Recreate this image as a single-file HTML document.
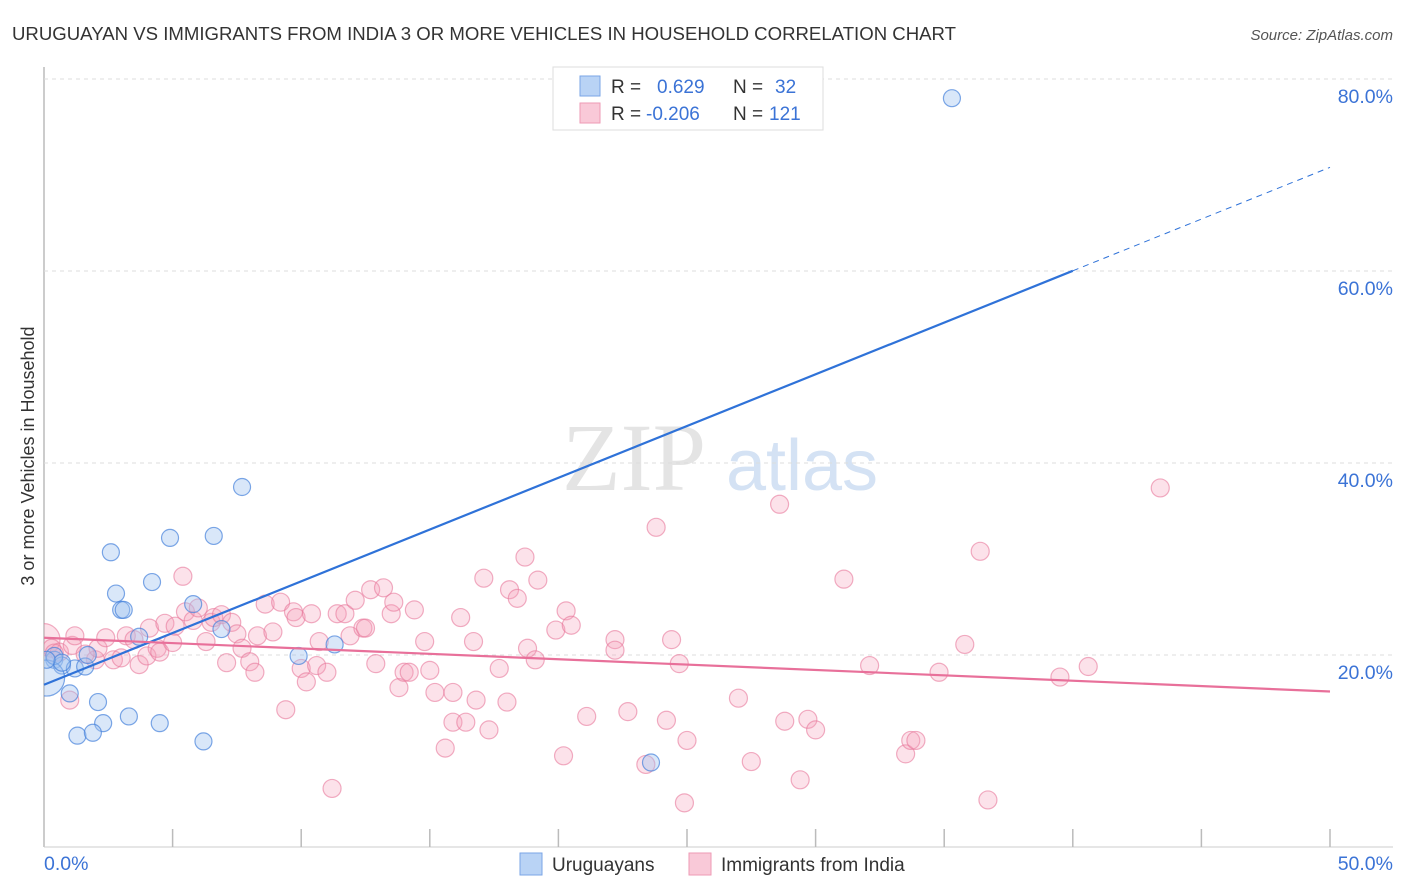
<!DOCTYPE html>
<html><head><meta charset="utf-8">
<style>
body{margin:0;background:#fff;width:1406px;height:892px;overflow:hidden;font-family:"Liberation Sans",sans-serif;}
svg{position:absolute;left:0;top:0}
</style></head>
<body>
<svg id="chart" width="1406" height="892">
<defs><clipPath id="plotclip"><rect x="44" y="60" width="1360" height="787"/></clipPath></defs>
<text x="12" y="40" font-size="18" fill="#333" textLength="944" lengthAdjust="spacingAndGlyphs">URUGUAYAN VS IMMIGRANTS FROM INDIA 3 OR MORE VEHICLES IN HOUSEHOLD CORRELATION CHART</text>
<text x="1393" y="40" font-size="15" fill="#555" font-style="italic" text-anchor="end">Source: ZipAtlas.com</text>
<text x="634" y="490" font-size="96" fill="#e4e4e4" font-family="Liberation Serif,serif" text-anchor="middle">ZIP</text>
<text x="802" y="490" font-size="72" fill="#d4e2f4" text-anchor="middle">atlas</text>
<text transform="translate(34,456) rotate(-90)" font-size="18" fill="#333" text-anchor="middle">3 or more Vehicles in Household</text>
<g id="grid"></g>
<g id="pts" clip-path="url(#plotclip)"></g>
<g id="lines"></g>
<g>
<rect x="553" y="67" width="270" height="63" fill="#fff" stroke="#ddd"/>
<rect x="580" y="76" width="20" height="20" fill="#b9d3f5" stroke="#7aa5e6"/>
<text x="611" y="93" font-size="19" fill="#333">R =</text>
<text x="657" y="93" font-size="19" fill="#3b73d6">0.629</text>
<text x="733" y="93" font-size="19" fill="#333">N =</text>
<text x="775" y="93" font-size="19" fill="#3b73d6">32</text>
<rect x="580" y="103" width="20" height="20" fill="#f9c9d8" stroke="#ee9ab5"/>
<text x="611" y="120" font-size="19" fill="#333">R =</text>
<text x="646" y="120" font-size="19" fill="#3b73d6">-0.206</text>
<text x="733" y="120" font-size="19" fill="#333">N =</text>
<text x="769" y="120" font-size="19" fill="#3b73d6">121</text>
</g>
<g>
<rect x="520" y="853" width="22" height="22" fill="#b9d3f5" stroke="#7aa5e6"/>
<text x="552" y="871" font-size="19" fill="#333">Uruguayans</text>
<rect x="689" y="853" width="22" height="22" fill="#f9c9d8" stroke="#ee9ab5"/>
<text x="721" y="871" font-size="19" fill="#333">Immigrants from India</text>
</g>
</svg>
<script>
const yTicks=[20,40,60,80];
const xTickLabels=["0.0%","50.0%"];
const blueX=[35.3,7.7,2.6,4.9,6.6,4.2,2.8,3.0,3.1,5.8,3.7,6.9,9.9,11.3,0.4,0.7,1.2,1.6,1.7,1.0,2.1,2.3,3.3,4.5,1.3,1.9,6.2,23.6,0.1,0.4,0.7,0.1];
const blueY=[78.0,37.5,30.7,32.2,32.4,27.6,26.4,24.7,24.7,25.3,21.9,22.7,19.9,21.1,19.5,18.9,18.6,18.8,20.0,16.0,15.1,12.9,13.6,12.9,11.6,11.9,11.0,8.8,17.6,19.9,19.2,19.5];
const pinkX=[0.0,0.3,0.6,1.1,1.2,1.0,2.0,2.1,2.4,2.7,3.0,3.2,3.5,3.7,4.0,4.1,4.4,4.5,4.7,5.0,5.1,5.4,5.5,5.8,6.0,6.3,6.5,6.6,6.9,7.1,7.3,7.5,7.7,8.0,8.2,8.3,8.6,8.9,9.2,9.4,9.7,9.8,10.0,10.2,10.4,10.6,10.7,11.0,11.2,11.4,11.7,11.9,12.1,12.4,12.5,12.7,12.9,13.2,13.5,13.6,13.8,14.0,14.2,14.4,14.8,15.0,15.2,15.6,15.9,15.9,16.2,16.4,16.7,16.8,17.1,17.3,17.7,18.0,18.1,18.4,18.7,18.8,19.1,19.2,19.9,20.2,20.3,20.5,21.1,22.2,22.2,22.7,23.4,23.8,24.2,24.4,24.7,24.9,25.0,27.0,27.5,28.6,28.8,29.4,29.7,30.0,31.1,32.1,33.5,33.7,33.9,34.8,35.8,36.4,36.7,39.5,40.6,43.4,0.4,1.6];
const pinkY=[21.6,20.7,20.3,21.0,22.0,15.3,19.5,20.7,21.8,19.5,19.7,22.0,21.6,19.0,19.9,22.8,20.7,20.3,23.3,21.3,23.0,28.2,24.5,23.6,24.9,21.4,23.4,23.9,24.2,19.2,23.4,22.2,20.7,19.3,18.2,22.0,25.3,22.4,25.5,14.3,24.5,23.9,18.6,17.2,24.3,18.9,21.4,18.2,6.1,24.3,24.3,22.0,25.7,22.8,22.8,26.8,19.1,27.0,24.3,25.5,16.6,18.2,18.2,24.7,21.4,18.4,16.1,10.3,13.0,16.1,23.9,13.0,21.4,15.3,28.0,12.2,18.6,15.1,26.8,25.9,30.2,20.7,19.5,27.8,22.6,9.5,24.6,23.1,13.6,21.6,20.5,14.1,8.6,33.3,13.2,21.6,19.1,4.6,11.1,15.5,8.9,35.7,13.1,7.0,13.3,12.2,27.9,18.9,9.7,11.1,11.1,18.2,21.1,30.8,4.9,17.7,18.8,37.4,20.2,20.1];
const blueTrend=[16.9,1.078]; // intercept, slope
const pinkTrend=[21.8,-0.112];
const X0=44,X1=1330,Y0=847,PXY=9.6;
const sx=v=>X0+(X1-X0)*v/50, sy=v=>Y0-v*PXY;
const NS="http://www.w3.org/2000/svg";
function mk(tag,attrs,parent){const e=document.createElementNS(NS,tag);for(const k in attrs)e.setAttribute(k,attrs[k]);parent.appendChild(e);return e;}
const grid=document.getElementById('grid');
let ax=mk('line',{x1:44,y1:67,x2:44,y2:847,stroke:'#bbb','stroke-width':1.5},grid);


let bx=mk('line',{x1:44,y1:847,x2:1393,y2:847,stroke:'#ccc','stroke-width':1},grid);


yTicks.forEach(t=>{
 const g=mk('line',{x1:44,y1:sy(t),x2:1393,y2:sy(t),stroke:'#ddd','stroke-dasharray':'4,4'},grid);
 
 
 const l=mk('text',{x:1393,y:sy(t)+24,'font-size':19.5,fill:'#3b73d6','text-anchor':'end'},grid);
 l.textContent=t.toFixed(1)+'%';
 
 
});
for(let i=1;i<=10;i++){
 const t=mk('line',{x1:sx(i*5),y1:829,x2:sx(i*5),y2:847,stroke:'#bbb','stroke-width':1.5},grid);
 
 
}
[[44,'start',0],[1393,'end',1]].forEach(([x,a,i])=>{
 const l=mk('text',{x:x,y:870,'font-size':19.5,fill:'#3b73d6','text-anchor':a},grid);
 l.textContent=xTickLabels[i];
 
 
});
const pts=document.getElementById('pts');
pinkX.forEach((x,i)=>{
 const c=mk('circle',{cx:sx(x),cy:sy(pinkY[i]),r:i==0?16:9,fill:'rgba(244,160,186,0.3)',stroke:'rgba(232,120,155,0.6)','stroke-width':1.2},pts);
 
 
});
blueX.forEach((x,i)=>{
 const c=mk('circle',{cx:sx(x),cy:sy(blueY[i]),r:i==28?18:8.5,fill:'rgba(160,196,240,0.4)',stroke:'rgba(70,130,220,0.7)','stroke-width':1.2},pts);
 
 
});
const lines=document.getElementById('lines');
const bl=mk('line',{x1:sx(0),y1:sy(blueTrend[0]),x2:sx(40),y2:sy(blueTrend[0]+blueTrend[1]*40),stroke:'#2f72d8','stroke-width':2.2},lines);


const bd=mk('line',{x1:sx(40),y1:sy(blueTrend[0]+blueTrend[1]*40),x2:sx(50),y2:sy(blueTrend[0]+blueTrend[1]*50),stroke:'#2f72d8','stroke-width':1,'stroke-dasharray':'6,5'},lines);


const pl=mk('line',{x1:sx(0),y1:sy(pinkTrend[0]),x2:sx(50),y2:sy(pinkTrend[0]+pinkTrend[1]*50),stroke:'#e8709a','stroke-width':2.2},lines);


</script>
</body></html>
